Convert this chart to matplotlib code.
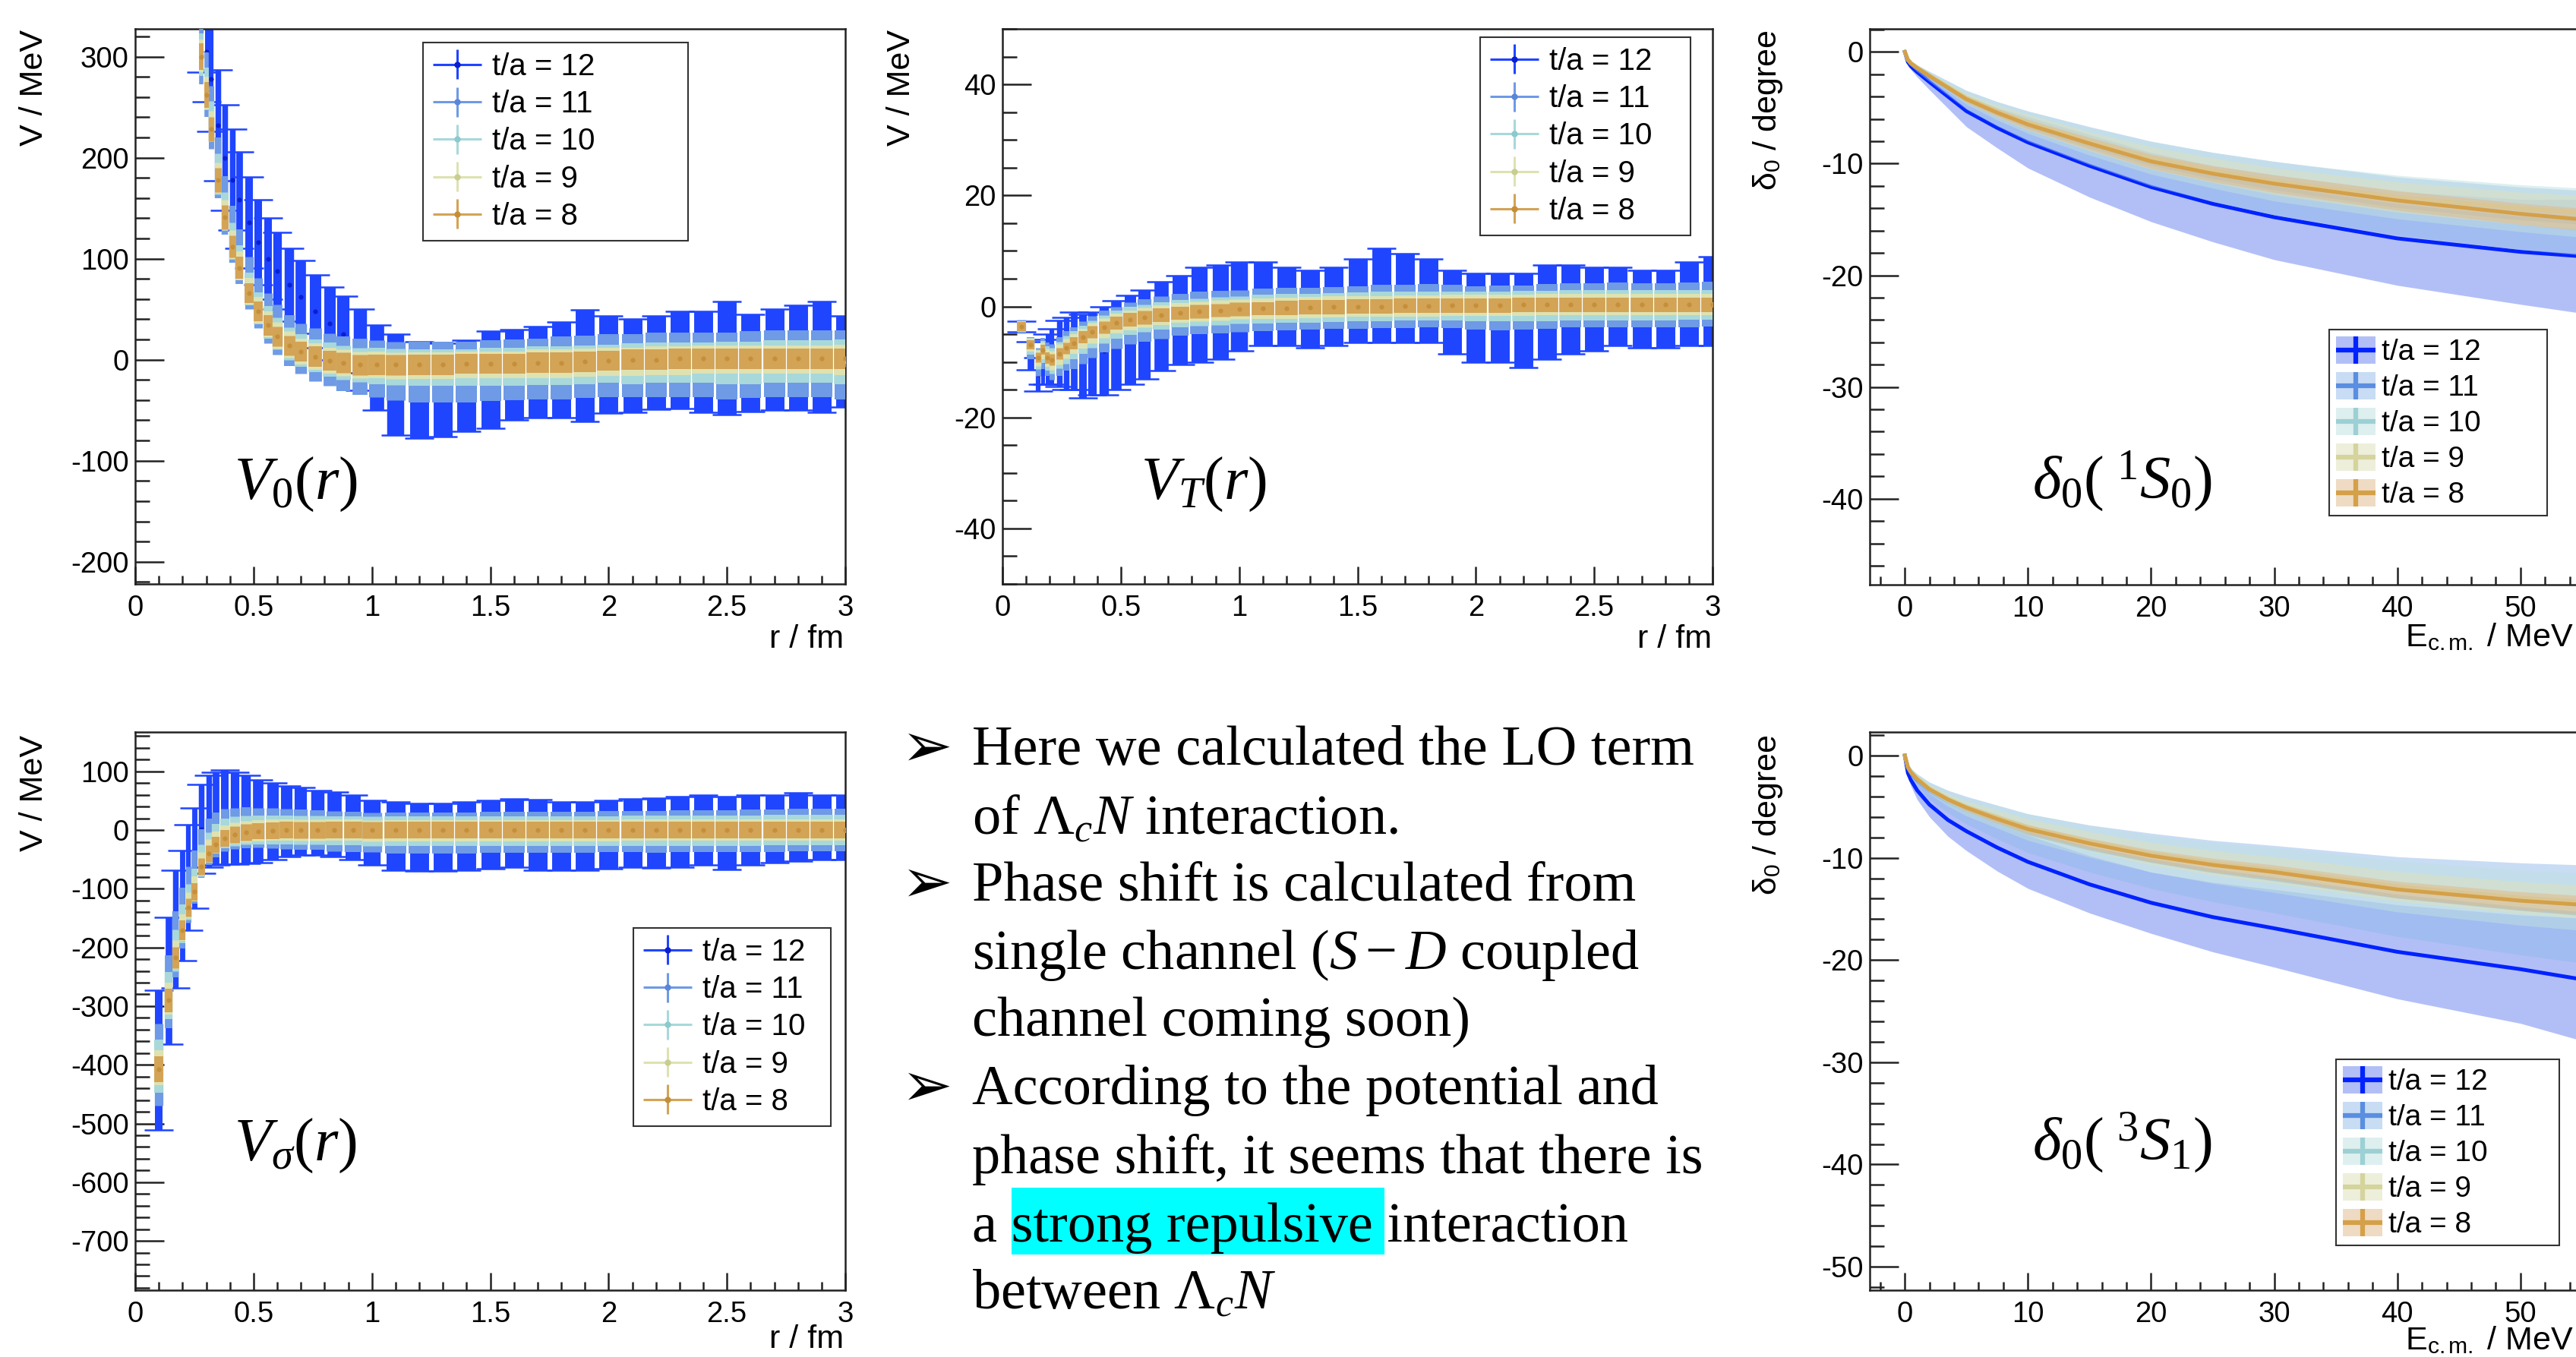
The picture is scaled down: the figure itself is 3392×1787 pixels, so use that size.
import numpy as np
import matplotlib
matplotlib.use("Agg")
import matplotlib.pyplot as plt
from matplotlib.legend_handler import HandlerBase
from matplotlib.patches import Rectangle
from matplotlib.lines import Line2D
from matplotlib.ticker import MultipleLocator, FuncFormatter

W, H = 3392, 1787

plt.rcParams['font.family'] = ['Liberation Sans', 'DejaVu Sans']
plt.rcParams['axes.unicode_minus'] = False
plt.rcParams['mathtext.fontset'] = 'custom'
plt.rcParams['mathtext.rm'] = 'Liberation Serif'
plt.rcParams['mathtext.it'] = 'Liberation Serif:italic'
plt.rcParams['mathtext.sf'] = 'Liberation Sans'

labels = ['t/a = 12', 't/a = 11', 't/a = 10', 't/a = 9', 't/a = 8']

# ---- V_0(r) ----
r0 = [0.28, 0.30, 0.32, 0.35, 0.38, 0.41, 0.44, 0.48, 0.52, 0.56, 0.60, 0.65, 0.70, 0.76, 0.82, 0.88, 0.95, 1.02, 1.10,
      1.20, 1.30, 1.40, 1.50, 1.60, 1.70, 1.80, 1.90, 2.00, 2.10, 2.20, 2.30, 2.40, 2.50, 2.60, 2.70, 2.80, 2.90, 3.00]
v0_12 = [330, 305, 278, 232, 200, 178, 158, 136, 116, 100, 88, 74, 62, 48, 36, 25, 10, -8, -25,
         -30, -30, -26, -20, -15, -12, -10, -6, -5, -6, -3, 0, -2, 2, -3, 0, 2, 3, -2]
e0_12 = [45, 50, 52, 55, 52, 50, 48, 45, 42, 40, 38, 36, 36, 36, 36, 38, 40, 42, 50,
         48, 46, 45, 48, 45, 45, 47, 55, 48, 46, 46, 48, 50, 56, 48, 50, 52, 55, 45]
v0_11 = [305, 272, 240, 190, 153, 124, 102, 76, 56, 41, 30, 19, 11, 5, 0, -4, -7, -9, -11,
         -12, -12, -12, -11, -10, -9, -8, -7, -6, -6, -5, -5, -5, -6, -5, -4, -4, -4, -5]
e0_11 = [32, 32, 31, 30, 29, 28, 27, 26, 25, 25, 25, 25, 25, 26, 26, 27, 28, 28, 29,
         30, 30, 30, 30, 30, 30, 31, 31, 31, 31, 32, 32, 32, 33, 33, 33, 33, 33, 34]
v0_10 = [302, 268, 236, 184, 147, 118, 96, 70, 51, 37, 26, 16, 9, 4, 0, -3, -5, -6, -7,
         -8, -8, -8, -7, -7, -6, -6, -5, -4, -4, -3, -3, -3, -3, -3, -2, -2, -2, -2]
e0_10 = [21, 21, 20, 20, 19, 18, 17, 16, 16, 16, 16, 16, 16, 16, 17, 17, 17, 18, 18,
         18, 18, 18, 19, 19, 19, 19, 19, 19, 20, 20, 20, 20, 21, 21, 21, 21, 21, 22]
v0_9 = [301, 264, 231, 180, 143, 114, 93, 68, 49, 35, 24, 15, 8, 3, -1, -3, -5, -5, -6,
        -6, -6, -5, -5, -5, -4, -4, -3, -2, -2, -1, -1, 0, 0, 0, 0, 0, 0, 0]
e0_9 = [16, 16, 15, 15, 15, 14, 14, 13, 13, 13, 13, 13, 13, 13, 13, 13, 13, 13, 13,
        13, 13, 13, 13, 13, 14, 14, 14, 14, 14, 14, 14, 14, 14, 14, 14, 14, 14, 15]
v0_8 = [300, 262, 228, 178, 141, 112, 91, 66, 48, 34, 23, 14, 8, 3, -1, -3, -5, -5, -5,
        -5, -5, -4, -4, -4, -3, -3, -2, -1, 0, 0, 1, 1, 1, 1, 1, 1, 1, 1]
e0_8 = [13, 13, 12, 12, 12, 11, 11, 10, 10, 10, 10, 10, 10, 10, 10, 10, 10, 10, 10,
        10, 10, 10, 10, 10, 10, 10, 10, 10, 10, 10, 10, 10, 10, 10, 10, 10, 10, 10]

# ---- V_T(r) ----
rT = [0.08, 0.12, 0.15, 0.17, 0.19, 0.21, 0.24, 0.27, 0.30, 0.34, 0.38, 0.43, 0.48, 0.54, 0.60, 0.67, 0.75, 0.83, 0.92, 1.00,
      1.10, 1.20, 1.30, 1.40, 1.50, 1.60, 1.70, 1.80, 1.90, 2.00, 2.10, 2.20, 2.30, 2.40, 2.50, 2.60, 2.70, 2.80, 2.90, 3.00]
vT_12 = [-3.6, -8.9, -12.2, -10.0, -9.5, -9.0, -8.5, -8.5, -8.0, -9.0, -8.5, -8.0, -7.0, -6.0, -5.0, -3.5, -2.5, -1.5, -1.0, 0.0,
         0.5, 0.0, -0.5, 0.0, 1.0, 2.0, 1.5, 1.0, -1.0, -2.0, -2.0, -2.5, -1.0, -0.5, -0.5, 0.0, -0.5, -0.5, 0.5, 1.0]
eT_12 = [1.0, 2.5, 3.0, 4.0, 4.5, 5.0, 6.0, 6.5, 7.0, 7.5, 7.5, 8.0, 8.0, 8.0, 8.0, 8.0, 8.0, 8.5, 8.5, 8.0,
         7.5, 7.0, 7.0, 7.0, 7.5, 8.5, 8.0, 7.5, 7.5, 8.0, 8.0, 8.5, 8.5, 8.0, 7.5, 7.0, 7.0, 7.0, 7.5, 8.0]
vT_11 = [-3.6, -7.5, -10.0, -8.5, -9.5, -10.0, -9.0, -8.0, -7.5, -6.5, -5.5, -4.5, -3.8, -3.0, -2.5, -2.0, -1.5, -1.2, -1.0, -0.8,
         -0.6, -0.5, -0.4, -0.3, -0.2, 0.0, 0.0, 0.2, 0.0, -0.3, -0.3, -0.2, 0.0, 0.2, 0.2, 0.3, 0.2, 0.2, 0.3, 0.4]
eT_11 = [1.2, 2.0, 2.5, 2.8, 3.0, 3.2, 3.5, 3.6, 3.8, 3.8, 3.8, 3.8, 3.8, 3.8, 3.8, 3.8, 3.8, 3.8, 3.8, 3.8,
         3.8, 3.8, 3.8, 3.8, 3.8, 3.9, 3.9, 3.9, 3.9, 3.9, 4.0, 4.0, 4.0, 4.0, 4.0, 4.0, 4.0, 4.0, 4.0, 4.0]
vT_10 = [-3.6, -7.2, -9.5, -8.2, -9.4, -9.8, -8.8, -7.8, -7.0, -6.0, -5.0, -4.1, -3.3, -2.6, -2.1, -1.7, -1.3, -1.0, -0.8, -0.6,
         -0.5, -0.4, -0.3, -0.2, -0.1, 0.0, 0.1, 0.1, 0.1, 0.0, 0.0, 0.1, 0.1, 0.2, 0.2, 0.2, 0.2, 0.2, 0.3, 0.3]
eT_10 = [1.0, 1.5, 1.8, 2.0, 2.2, 2.3, 2.4, 2.5, 2.5, 2.5, 2.5, 2.5, 2.5, 2.5, 2.5, 2.5, 2.5, 2.5, 2.5, 2.5,
         2.6, 2.6, 2.6, 2.6, 2.6, 2.6, 2.6, 2.6, 2.6, 2.6, 2.7, 2.7, 2.7, 2.7, 2.7, 2.7, 2.7, 2.7, 2.7, 2.7]
vT_9 = [-3.6, -7.0, -9.3, -8.0, -9.3, -9.7, -8.6, -7.6, -6.8, -5.8, -4.8, -3.9, -3.1, -2.5, -2.0, -1.6, -1.2, -0.9, -0.7, -0.5,
        -0.4, -0.3, -0.2, -0.1, 0.0, 0.0, 0.1, 0.1, 0.2, 0.2, 0.2, 0.2, 0.3, 0.3, 0.3, 0.3, 0.3, 0.3, 0.3, 0.3]
eT_9 = [0.9, 1.2, 1.4, 1.5, 1.6, 1.7, 1.8, 1.8, 1.8, 1.8, 1.8, 1.8, 1.8, 1.8, 1.8, 1.8, 1.8, 1.8, 1.8, 1.8,
        1.9, 1.9, 1.9, 1.9, 1.9, 1.9, 1.9, 1.9, 1.9, 1.9, 1.9, 1.9, 1.9, 1.9, 1.9, 1.9, 1.9, 1.9, 1.9, 1.9]
vT_8 = [-3.6, -6.9, -9.2, -7.8, -9.3, -9.6, -8.5, -7.5, -6.6, -5.5, -4.6, -3.8, -3.0, -2.4, -2.0, -1.6, -1.2, -0.9, -0.7, -0.5,
        -0.4, -0.3, -0.2, -0.1, 0.0, 0.0, 0.1, 0.1, 0.2, 0.2, 0.2, 0.3, 0.3, 0.3, 0.3, 0.3, 0.3, 0.3, 0.3, 0.3]
eT_8 = [0.8, 0.8, 0.9, 0.9, 1.0, 1.0, 1.0, 1.0, 1.1, 1.1, 1.1, 1.1, 1.2, 1.2, 1.2, 1.2, 1.2, 1.2, 1.2, 1.2,
        1.2, 1.3, 1.3, 1.3, 1.3, 1.3, 1.3, 1.3, 1.3, 1.3, 1.3, 1.3, 1.3, 1.3, 1.3, 1.3, 1.3, 1.3, 1.3, 1.3]

# ---- V_sigma(r) ----
rS = [0.10, 0.14, 0.17, 0.20, 0.225, 0.25, 0.28, 0.31, 0.34, 0.38, 0.42, 0.47, 0.52, 0.58, 0.64, 0.70, 0.77, 0.84, 0.92, 1.00,
      1.10, 1.20, 1.30, 1.40, 1.50, 1.60, 1.70, 1.80, 1.90, 2.00, 2.10, 2.20, 2.30, 2.40, 2.50, 2.60, 2.70, 2.80, 2.90, 3.00]
vS_12 = [-392, -257, -169, -129, -81, -48, 2, 15, 20, 22, 20, 18, 15, 15, 15, 15, 12, 10, 5, -5,
         -10, -12, -12, -10, -8, -5, -8, -10, -10, -8, -5, -5, -3, 0, -5, 0, 2, 5, 5, 5]
eS_12 = [119, 108, 100, 94, 90, 85, 76, 78, 79, 80, 78, 75, 70, 65, 60, 58, 55, 55, 55, 55,
         58, 58, 58, 58, 58, 58, 60, 58, 58, 58, 58, 60, 60, 60, 62, 60, 58, 58, 55, 55]
vS_11 = [-400, -275, -195, -150, -110, -80, -40, -20, -8, 0, 3, 4, 4, 3, 2, 1, 0, -2, -3, -4,
         -5, -5, -5, -5, -4, -4, -4, -4, -4, -3, -3, -3, -2, -2, -2, -1, -1, 0, 0, 0]
eS_11 = [70, 62, 56, 52, 48, 45, 42, 40, 38, 36, 35, 35, 34, 34, 34, 34, 34, 34, 34, 34,
         35, 35, 35, 35, 35, 35, 35, 35, 35, 35, 35, 36, 36, 36, 36, 36, 36, 36, 36, 36]
vS_10 = [-402, -282, -205, -160, -122, -94, -52, -30, -15, -6, -2, 0, 0, 0, 0, 0, 0, -1, -1, -2,
         -2, -2, -2, -2, -2, -2, -2, -2, -2, -2, -1, -1, -1, -1, -1, -1, 0, 0, 0, 0]
eS_10 = [45, 40, 36, 33, 30, 28, 27, 26, 25, 25, 25, 25, 25, 25, 25, 25, 25, 25, 25, 25,
         25, 25, 25, 25, 25, 25, 25, 25, 25, 25, 26, 26, 26, 26, 26, 26, 26, 26, 26, 26]
vS_9 = [-405, -287, -212, -166, -128, -100, -58, -35, -20, -10, -5, -2, -1, 0, 0, 0, 0, 0, 0, -1,
        -1, -1, -1, -1, -1, -1, -1, -1, -1, -1, 0, 0, 0, 0, 0, 0, 0, 0, 0, 0]
eS_9 = [30, 27, 25, 23, 22, 21, 20, 19, 18, 18, 18, 18, 18, 18, 18, 18, 18, 18, 18, 18,
        18, 18, 18, 18, 18, 18, 18, 18, 18, 18, 18, 18, 18, 18, 18, 18, 18, 18, 18, 18]
vS_8 = [-407, -290, -217, -171, -132, -105, -62, -40, -25, -14, -8, -4, -2, -1, 0, 0, 0, 0, 0, 0,
        0, 0, 0, 0, 0, 0, 0, 0, 0, 0, 0, 0, 0, 0, 0, 0, 0, 0, 0, 0]
eS_8 = [22, 20, 18, 17, 16, 15, 14, 14, 14, 14, 14, 14, 14, 14, 14, 14, 14, 14, 14, 14,
        14, 14, 14, 14, 14, 14, 14, 14, 14, 14, 14, 14, 14, 14, 14, 14, 14, 14, 14, 14]

# ---- phase shifts ----
ecm = [0, 0.25, 0.5, 1, 2, 3.5, 5, 7.5, 10, 15, 20, 25, 30, 40, 50, 55]
d1_12 = [0, -0.9, -1.3, -1.8, -2.7, -4.0, -5.3, -6.8, -8.1, -10.2, -12.1, -13.6, -14.8, -16.7, -17.9, -18.3]
s1_12 = [0, 0.2, 0.3, 0.45, 0.7, 1.05, 1.4, 1.8, 2.3, 2.8, 3.1, 3.4, 3.8, 4.2, 4.7, 5.1]
d1_11 = [0, -0.74, -1.06, -1.48, -2.2, -3.25, -4.3, -5.55, -6.65, -8.4, -10.0, -11.2, -12.2, -13.8, -14.9, -15.3]
s1_11 = [0, 0.15, 0.22, 0.3, 0.45, 0.65, 0.85, 1.1, 1.35, 1.7, 2.0, 2.2, 2.4, 2.6, 2.8, 2.9]
d1_10 = [0, -0.7, -1.0, -1.4, -2.1, -3.1, -4.1, -5.3, -6.3, -8.0, -9.5, -10.6, -11.6, -13.0, -14.0, -14.4]
s1_10 = [0, 0.1, 0.15, 0.2, 0.3, 0.45, 0.6, 0.8, 1.0, 1.25, 1.45, 1.6, 1.75, 1.95, 2.1, 2.2]
d1_9 = [0, -0.7, -1.0, -1.4, -2.1, -3.1, -4.1, -5.3, -6.3, -8.0, -9.5, -10.6, -11.6, -13.0, -14.0, -14.4]
s1_9 = [0, 0.08, 0.1, 0.15, 0.2, 0.3, 0.4, 0.55, 0.7, 0.85, 1.0, 1.1, 1.2, 1.35, 1.45, 1.5]
d1_8 = [0, -0.72, -1.04, -1.44, -2.16, -3.2, -4.24, -5.44, -6.5, -8.2, -9.8, -10.9, -11.8, -13.3, -14.5, -15.0]
s1_8 = [0, 0.05, 0.08, 0.1, 0.15, 0.22, 0.3, 0.38, 0.45, 0.55, 0.65, 0.72, 0.78, 0.88, 0.95, 1.0]

d3_12 = [0, -1.7, -2.4, -3.4, -4.8, -6.3, -7.4, -9.0, -10.4, -12.6, -14.4, -15.8, -16.9, -19.2, -20.9, -21.9]
s3_12 = [0, 0.45, 0.6, 0.9, 1.2, 1.6, 1.9, 2.3, 2.6, 2.8, 3.0, 3.4, 3.8, 4.6, 5.3, 6.0]
d3_11 = [0, -1.2, -1.7, -2.4, -3.45, -4.5, -5.35, -6.5, -7.6, -9.1, -10.3, -11.3, -12.1, -13.8, -15.0, -15.5]
s3_11 = [0, 0.3, 0.45, 0.6, 0.85, 1.1, 1.35, 1.65, 1.9, 2.3, 2.7, 3.0, 3.3, 3.9, 4.5, 4.8]
d3_10 = [0, -1.1, -1.6, -2.2, -3.2, -4.2, -5.0, -6.0, -7.0, -8.4, -9.6, -10.5, -11.2, -12.8, -13.9, -14.3]
s3_10 = [0, 0.2, 0.3, 0.4, 0.55, 0.75, 0.9, 1.1, 1.3, 1.55, 1.8, 2.0, 2.2, 2.5, 2.7, 2.8]
d3_9 = [0, -1.1, -1.6, -2.2, -3.2, -4.2, -5.0, -6.0, -7.0, -8.4, -9.6, -10.5, -11.2, -12.8, -13.9, -14.3]
s3_9 = [0, 0.12, 0.18, 0.25, 0.35, 0.45, 0.55, 0.68, 0.8, 0.95, 1.1, 1.2, 1.3, 1.45, 1.55, 1.6]
d3_8 = [0, -1.15, -1.65, -2.3, -3.3, -4.3, -5.1, -6.2, -7.2, -8.6, -9.8, -10.7, -11.4, -13.1, -14.2, -14.6]
s3_8 = [0, 0.06, 0.08, 0.12, 0.17, 0.23, 0.3, 0.36, 0.42, 0.5, 0.58, 0.65, 0.7, 0.8, 0.88, 0.9]

# colours per t/a (12, 11, 10, 9, 8)
bar_col = ['#1f45ff', '#6e9ae6', '#a8d8da', '#dee2b0', '#d3a356']
dot_col = ['#0a1fd0', '#5b86d8', '#8ccacc', '#c9cd90', '#c58f3a']
bar_frac = [0.8, 0.9, 0.95, 0.95, 0.95]
line_col = ['#0022ff', '#5a8ee0', '#9cd0d4', '#d4d49c', '#d4a048']
band_col = ['#6680f0', '#92baea', '#bfe1e1', '#dde1b9', '#e1b989']

PX_PER_FM = 311.5


class Key:
    def __init__(self, color, face=None, dot=None, lw=2.0, vlen=None, ms=6):
        self.color, self.face, self.dot = color, face, dot
        self.lw, self.vlen, self.ms = lw, vlen, ms


class KeyHandler(HandlerBase):
    def create_artists(self, legend, key, xdescent, ydescent, width, height, fontsize, trans):
        x0, y0 = -xdescent, -ydescent
        xc, yc = x0 + width / 2, y0 + height / 2
        arts = []
        if key.face is not None:
            arts.append(Rectangle((x0, y0), width, height, fc=key.face, ec='none', transform=trans))
        vh = key.vlen / 2 if key.vlen else height / 2
        arts.append(Line2D([x0, x0 + width], [yc, yc], color=key.color, lw=key.lw,
                           solid_capstyle='butt', transform=trans))
        arts.append(Line2D([xc, xc], [yc - vh, yc + vh], color=key.color, lw=key.lw,
                           solid_capstyle='butt', transform=trans))
        if key.dot is not None:
            arts.append(Line2D([xc], [yc], marker='o', ms=key.ms, mfc=key.dot, mec='none',
                               ls='none', transform=trans))
        return arts


def px_box(l, t, r, b):
    return [l / W, 1 - b / H, (r - l) / W, (b - t) / H]


fig = plt.figure(figsize=(W / 100, H / 100), dpi=100)
fig.patch.set_facecolor('white')

ax1 = fig.add_axes(px_box(178, 38, 1113, 769))
ax2 = fig.add_axes(px_box(1320, 38, 2255, 769))
ax3 = fig.add_axes(px_box(2462, 38, 3400, 770))
ax4 = fig.add_axes(px_box(178, 964, 1113, 1699))
ax5 = fig.add_axes(px_box(2462, 964, 3400, 1699))


def root_axes(ax, xlim, ylim, xmaj, xmin, ymaj, ymin):
    ax.set_xlim(*xlim)
    ax.set_ylim(*ylim)
    ax.xaxis.set_major_locator(MultipleLocator(xmaj))
    ax.xaxis.set_minor_locator(MultipleLocator(xmin))
    ax.yaxis.set_major_locator(MultipleLocator(ymaj))
    ax.yaxis.set_minor_locator(MultipleLocator(ymin))
    fmt = FuncFormatter(lambda v, p: '%g' % (0 if abs(v) < 1e-9 else v))
    ax.xaxis.set_major_formatter(fmt)
    ax.yaxis.set_major_formatter(fmt)
    ax.tick_params(which='both', direction='in', top=False, right=False, width=1.8,
                   color='#222222', labelsize=27.5)
    ax.tick_params(axis='x', which='major', length=16.5, pad=10)
    ax.tick_params(axis='x', which='minor', length=8)
    ax.tick_params(axis='y', which='major', length=27, pad=6)
    ax.tick_params(axis='y', which='minor', length=14)
    for sp in ax.spines.values():
        sp.set_linewidth(1.8)
        sp.set_color('#222222')


def draw_potential(ax, r, vals, errs):
    # bar width follows the local point spacing so neighbouring bars close up
    spacing_pt = np.gradient(np.array(r)) * PX_PER_FM * 0.72
    for i in range(5):
        cont = ax.errorbar(r, vals[i], yerr=errs[i], fmt='o', ms=4.5, mfc=dot_col[i], mec='none',
                           ecolor=bar_col[i], elinewidth=2, capsize=14 if i == 0 else 0,
                           capthick=1.8, zorder=2 + i)
        cont.lines[2][0].set_linewidths(np.clip(spacing_pt * bar_frac[i], 2.5, None))


def pot_legend(ax, x, y, w):
    keys = [Key(bar_col[i], dot=dot_col[i], lw=2.2, vlen=28, ms=6) for i in range(5)]
    leg = ax.legend(keys, labels, handler_map={Key: KeyHandler()}, loc='upper left',
                    bbox_to_anchor=(x / W, 1 - y / H, w / W, 0), bbox_transform=fig.transFigure,
                    mode='expand', borderaxespad=0, fontsize=29, handlelength=1.6, handleheight=0.7,
                    handletextpad=0.35, borderpad=0.32, labelspacing=0.28, fancybox=False,
                    framealpha=1, edgecolor='#333333')
    leg.get_frame().set_linewidth(1.5)


def phase_legend(ax, x, y, w):
    keys = [Key(line_col[i], face=band_col[i] + '80', lw=4.5) for i in range(5)]
    leg = ax.legend(keys, labels, handler_map={Key: KeyHandler()}, loc='upper left',
                    bbox_to_anchor=(x / W, 1 - y / H, w / W, 0), bbox_transform=fig.transFigure,
                    mode='expand', borderaxespad=0, fontsize=28, handlelength=1.35, handleheight=1.05,
                    handletextpad=0.2, borderpad=0.22, labelspacing=0.2, fancybox=False,
                    framealpha=1, edgecolor='#333333')
    leg.get_frame().set_linewidth(1.5)


def draw_phase(ax, centres, spreads):
    for i in range(5):
        c = np.array(centres[i])
        s = np.array(spreads[i])
        ax.fill_between(ecm, c - s, c + s, color=band_col[i], alpha=0.5, lw=0, zorder=2 + 2 * i)
        ax.plot(ecm, c, color=line_col[i], lw=3.6, zorder=3 + 2 * i)


# potentials
root_axes(ax1, (0, 3), (-222, 327.5), 0.5, 0.1, 100, 20)
draw_potential(ax1, r0, [v0_12, v0_11, v0_10, v0_9, v0_8], [e0_12, e0_11, e0_10, e0_9, e0_8])
pot_legend(ax1, 557, 56, 349)

root_axes(ax2, (0, 3), (-50, 50), 0.5, 0.1, 20, 5)
draw_potential(ax2, rT, [vT_12, vT_11, vT_10, vT_9, vT_8], [eT_12, eT_11, eT_10, eT_9, eT_8])
pot_legend(ax2, 1949, 49, 277)

root_axes(ax4, (0, 3), (-784, 167), 0.5, 0.1, 100, 20)
draw_potential(ax4, rS, [vS_12, vS_11, vS_10, vS_9, vS_8], [eS_12, eS_11, eS_10, eS_9, eS_8])
pot_legend(ax4, 834, 1222, 260)

# phase shifts
root_axes(ax3, (-2.85, 55.0), (-47.7, 2.06), 10, 2, 10, 2)
draw_phase(ax3, [d1_12, d1_11, d1_10, d1_9, d1_8], [s1_12, s1_11, s1_10, s1_9, s1_8])
phase_legend(ax3, 3067, 434, 287)

root_axes(ax5, (-2.85, 55.0), (-52.3, 2.3), 10, 2, 10, 2)
draw_phase(ax5, [d3_12, d3_11, d3_10, d3_9, d3_8], [s3_12, s3_11, s3_10, s3_9, s3_8])
phase_legend(ax5, 3076, 1395, 294)


# axis titles
def ftext(x, y, s, **kw):
    return fig.text(x / W, 1 - y / H, s, **kw)


for x, y in [(45, 39), (1187, 39), (45, 968)]:
    ftext(x, y, 'V / MeV', rotation=90, ha='center', va='top', fontsize=31)
for y in [39, 967]:
    ftext(2328, y, r'δ$_\mathsf{0}$ / degree', rotation=90, ha='center', va='top', fontsize=31)
for x, y in [(1111, 842), (2254, 842), (1111, 1764)]:
    ftext(x, y, 'r / fm', ha='right', va='center', fontsize=31)
ftext(3389, 840, r'E$_\mathsf{c.m.}$ / MeV', ha='right', va='center', fontsize=31)
ftext(3389, 1766, r'E$_\mathsf{c.m.}$ / MeV', ha='right', va='center', fontsize=31)

# panel names
ftext(308, 657, r'$V_0(r)$', fontsize=58, va='baseline')
ftext(1502, 657, r'$V_T(r)$', fontsize=58, va='baseline')
ftext(308, 1528, r'$V_\sigma(r)$', fontsize=58, va='baseline')
ftext(2676, 657, r'$\delta_0(\;^1S_0)$', fontsize=58, va='baseline')
ftext(2676, 1528, r'$\delta_0(\;^3S_1)$', fontsize=58, va='baseline')

# bullet text
serif = ['Liberation Serif', 'DejaVu Serif']
tx, fs = 1280, 53.5
base = [1007, 1098, 1186, 1276, 1364, 1454, 1545, 1635, 1723]
rows = ['Here we calculated the LO term',
        r'of $\Lambda_cN$ interaction.',
        'Phase shift is calculated from',
        r'single channel ($S-D$ coupled',
        'channel coming soon)',
        'According to the potential and',
        'phase shift, it seems that there is',
        None,
        r'between $\Lambda_cN$']
for i, s in enumerate(rows):
    if s is not None:
        ftext(tx, base[i], s, fontsize=fs, family=serif, va='baseline')
for i in [0, 2, 5]:
    ftext(1186, base[i] + 2, '\u27a2', fontsize=58, family=['DejaVu Sans'], va='baseline')

renderer = fig.canvas.get_renderer()


def ink_width(s):
    t = ftext(0, 0, s, fontsize=fs, family=serif)
    w = t.get_window_extent(renderer).width
    t.remove()
    return w


y8 = base[7]
ftext(tx, y8, 'a strong repulsive interaction', fontsize=fs, family=serif, va='baseline', zorder=3)
x_start = tx + ink_width('a s') - ink_width('s')
x_end = tx + ink_width('a strong repulsive i') - ink_width('i') - 3
fig.patches.append(Rectangle((x_start / W, 1 - (y8 + 17) / H), (x_end - x_start) / W, 88.5 / H,
                             transform=fig.transFigure, fc='#00ffff', ec='none', zorder=1))

fig.savefig('out.png', dpi=100, facecolor='white')
